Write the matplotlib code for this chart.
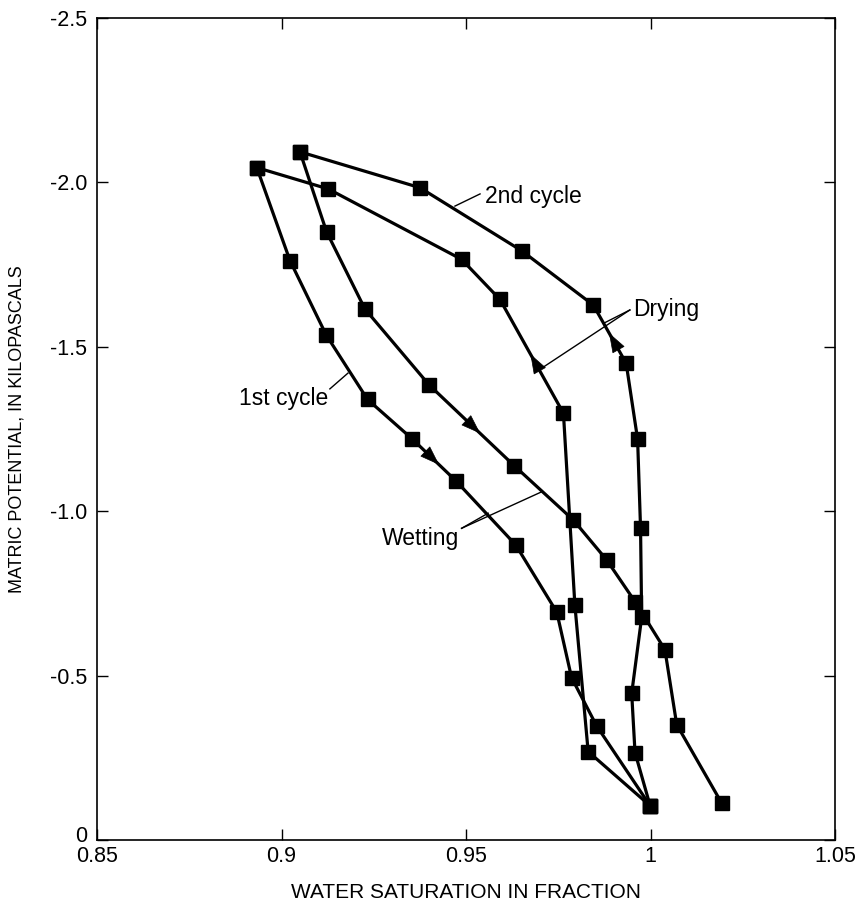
import matplotlib

matplotlib.use("Agg")
import matplotlib.pyplot as plt
import matplotlib.transforms as mtransforms
from matplotlib.patches import FancyArrowPatch

plt.rcParams["font.family"] = ["Liberation Sans", "DejaVu Sans"]

# ---------------------------------------------------------------------------
# data (water saturation, matric potential in kPa)
wet1_x = [0.8933, 0.9023, 0.9121, 0.9233, 0.9354, 0.9472, 0.9635, 0.9746, 0.9786, 0.9854, 0.9999]
wet1_y = [-2.045, -1.762, -1.536, -1.340, -1.220, -1.093, -0.897, -0.693, -0.494, -0.347, -0.104]

dry1_x = [0.9999, 0.9831, 0.9795, 0.9764, 0.9592, 0.9488, 0.9127, 0.8933]
dry1_y = [-0.104, -0.269, -0.715, -1.298, -1.644, -1.766, -1.980, -2.045]

wet2_x = [0.9050, 0.9122, 0.9226, 0.9400, 0.9631, 0.9791, 0.9881, 0.9958, 1.0039, 1.0071, 1.0193]
wet2_y = [-2.093, -1.850, -1.615, -1.384, -1.138, -0.973, -0.852, -0.725, -0.579, -0.351, -0.112]

dry2_x = [0.9999, 0.9958, 0.9949, 0.9976, 0.9973, 0.9965, 0.9934, 0.9845, 0.9651, 0.9375, 0.9050]
dry2_y = [-0.104, -0.266, -0.446, -0.677, -0.948, -1.219, -1.450, -1.627, -1.792, -1.984, -2.093]

x_ticks = [0.85, 0.9, 0.95, 1.0, 1.05]
x_tick_labels = ["0.85", "0.9", "0.95", "1", "1.05"]
y_ticks = [0, -0.5, -1.0, -1.5, -2.0, -2.5]
y_tick_labels = ["0", "-0.5", "-1.0", "-1.5", "-2.0", "-2.5"]


def arrow_on(ax, xs, ys, i, t):
    """filled arrow head on segment i -> i+1, tip at fraction t"""
    x0, y0, x1, y1 = xs[i], ys[i], xs[i + 1], ys[i + 1]
    tip = (x0 + t * (x1 - x0), y0 + t * (y1 - y0))
    tail = (x0 + (t - 0.35) * (x1 - x0), y0 + (t - 0.35) * (y1 - y0))
    ax.add_patch(FancyArrowPatch(tail, tip, arrowstyle="-|>,head_length=13,head_width=4.6",
                                 mutation_scale=1, color="black", lw=0.5,
                                 shrinkA=0, shrinkB=0, zorder=4))


fig = plt.figure(figsize=(8.58, 9.01), dpi=100)
ax = fig.add_axes([0.1131, 0.0677, 0.8601, 0.9123])

for xs, ys in [(wet1_x, wet1_y), (dry1_x, dry1_y), (wet2_x, wet2_y), (dry2_x, dry2_y)]:
    ax.plot(xs, ys, "-s", color="black", lw=2.3, ms=9.5, zorder=3)

arrow_on(ax, wet1_x, wet1_y, 4, 0.62)
arrow_on(ax, wet2_x, wet2_y, 3, 0.6)
arrow_on(ax, dry1_x, dry1_y, 3, 0.52)
arrow_on(ax, dry2_x, dry2_y, 6, 0.52)

# labels and pointer lines
fs = 16.5
ax.text(0.9552, -1.957, "2nd cycle", fontsize=fs, ha="left", va="center")
ax.plot([0.9470, 0.9538], [-1.928, -1.965], color="black", lw=1.0)

ax.text(0.9127, -1.343, "1st cycle", fontsize=fs, ha="right", va="center")
ax.plot([0.9131, 0.9180], [-1.372, -1.420], color="black", lw=1.0)

ax.text(0.9953, -1.615, "Drying", fontsize=fs, ha="left", va="center")
ax.plot([0.9944, 0.9872], [-1.612, -1.571], color="black", lw=1.0)
ax.plot([0.9944, 0.9705], [-1.612, -1.435], color="black", lw=1.0)

ax.text(0.9272, -0.918, "Wetting", fontsize=fs, ha="left", va="center")
ax.plot([0.9488, 0.9705], [-0.948, -1.059], color="black", lw=1.0)
ax.plot([0.9488, 0.9560], [-0.948, -0.994], color="black", lw=1.0)

ax.set_xlim(0.85, 1.05)
ax.set_ylim(0, -2.5)
ax.set_xticks(x_ticks)
ax.set_xticklabels(x_tick_labels)
ax.set_yticks(y_ticks)
ax.set_yticklabels(y_tick_labels)
ax.tick_params(direction="in", length=8, width=1.0, top=True, right=True, labelsize=15.5)
ax.tick_params(axis="y", pad=7)
ax.tick_params(axis="x", pad=4)
for s in ax.spines.values():
    s.set_linewidth(1.2)

# the "0" on the y axis sits just above the "0.85" in the original
zero_lbl = ax.get_yticklabels()[0]
zero_lbl.set_transform(zero_lbl.get_transform()
                       + mtransforms.ScaledTranslation(0, 0.06, fig.dpi_scale_trans))

ax.set_xlabel("WATER SATURATION IN FRACTION", fontsize=15, labelpad=12)
# narrow face in the original; no condensed face installed, so a smaller size
ax.set_ylabel("MATRIC POTENTIAL, IN KILOPASCALS", fontsize=13)
ax.yaxis.set_label_coords(-0.097, 0.5)

fig.savefig("out.png", dpi=100)
